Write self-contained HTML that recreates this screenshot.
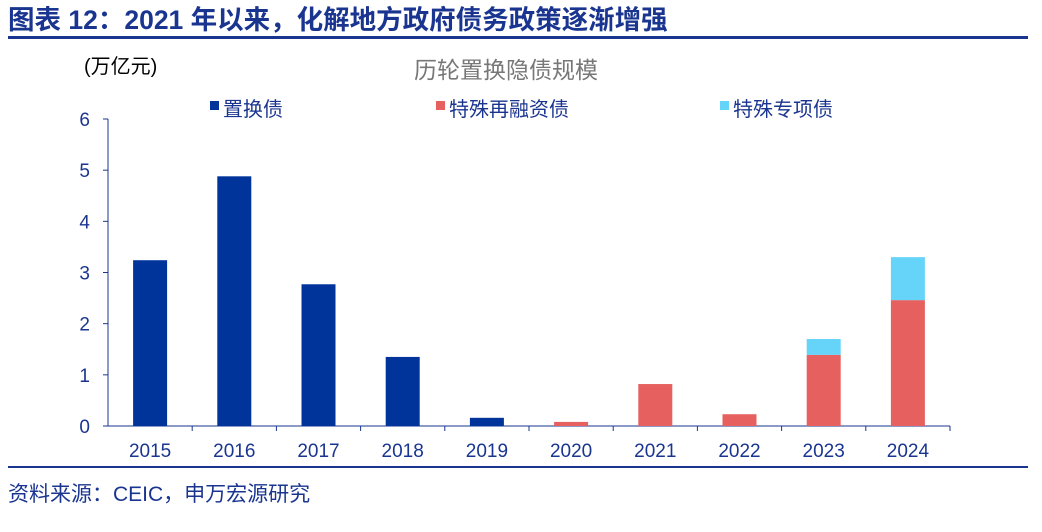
<!DOCTYPE html>
<html><head><meta charset="utf-8"><style>
body{margin:0;background:#fff;width:1042px;height:527px;overflow:hidden;font-family:"Liberation Sans","Noto Sans CJK SC",sans-serif;}
</style></head><body>
<svg width="1042" height="527" xmlns="http://www.w3.org/2000/svg" font-family="Liberation Sans, Noto Sans CJK SC, sans-serif">
<text x="8" y="29" font-size="26.5" font-weight="bold" fill="#1a3590">图表 12：2021 年以来，化解地方政府债务政策逐渐增强</text>
<rect x="8" y="36" width="1020" height="3" fill="#1a3590"/>
<text x="84" y="73" font-size="20" fill="#000">(万亿元)</text>
<text x="506" y="78" font-size="23" fill="#777" text-anchor="middle">历轮置换隐债规模</text>
<g font-size="20" fill="#1a3590">
<rect x="210" y="101" width="9" height="9" fill="#00349a"/><text x="223" y="116" fill="#1a3590">置换债</text>
<rect x="436" y="101" width="9" height="9" fill="#e66060"/><text x="449" y="116" fill="#1a3590">特殊再融资债</text>
<rect x="720" y="101" width="9" height="9" fill="#66d4f8"/><text x="733" y="116" fill="#1a3590">特殊专项债</text>
</g>
<g id="axes"></g>
<g id="bars"></g>
<rect x="8" y="466" width="1020" height="2" fill="#1a3590"/>
<text x="8" y="501" font-size="21" fill="#1a3590">资料来源：CEIC，申万宏源研究</text>
</svg>
<script>
const categories=["2015","2016","2017","2018","2019","2020","2021","2022","2023","2024"];
const replaceBond=[3.24,4.88,2.77,1.35,0.16,0,0,0,0,0];
const refinanceBond=[0,0,0,0,0,0.08,0.82,0.23,1.39,2.46];
const specialBond=[0,0,0,0,0,0,0,0,0.31,0.84];
const yTicks=[0,1,2,3,4,5,6];
const NS="http://www.w3.org/2000/svg";
const x0=108,x1=950,yBase=426,yTop=119,yMax=6;
const band=(x1-x0)/categories.length,bw=34;
const y=v=>yBase-(v/yMax)*(yBase-yTop);
const xc=i=>x0+band*(i+0.5);
function mk(tag,attrs,parent){const e=document.createElementNS(NS,tag);for(const k in attrs)e.setAttribute(k,attrs[k]);parent.appendChild(e);return e;}
const ax=document.getElementById('axes'),bg=document.getElementById('bars');
let l=mk('line',{x1:x0,y1:yTop,x2:x0,y2:yBase,stroke:'#1a3590','stroke-width':1},ax);


l=mk('line',{x1:x0,y1:yBase,x2:x1,y2:yBase,stroke:'#1a3590','stroke-width':1},ax);


yTicks.forEach(t=>{
 const tk=mk('line',{x1:x0-5,y1:y(t),x2:x0,y2:y(t),stroke:'#1a3590'},ax);
 
 
 const tx=mk('text',{x:x0-18,y:y(t)+7,'font-size':19,fill:'#1a3590','text-anchor':'end'},ax);
 tx.textContent=t;
 
 
});
categories.forEach((c,i)=>{
 const tk=mk('line',{x1:x0+band*(i+1),y1:yBase,x2:x0+band*(i+1),y2:yBase+5,stroke:'#1a3590'},ax);
 
 
 const tx=mk('text',{x:xc(i),y:457,'font-size':19,fill:'#1a3590','text-anchor':'middle'},ax);
 tx.textContent=c;
 
 
 let base=0;
 [[replaceBond,'#00349a','bar-replace-'],[refinanceBond,'#e66060','bar-refinance-'],[specialBond,'#66d4f8','bar-special-']].forEach(([arr,col,nm])=>{
  const v=arr[i];if(v<=0)return;
  const r=mk('rect',{x:xc(i)-bw/2,y:y(base+v),width:bw,height:y(base)-y(base+v),fill:col},bg);
  
  
  base+=v;
 });
});
</script>
</body></html>
